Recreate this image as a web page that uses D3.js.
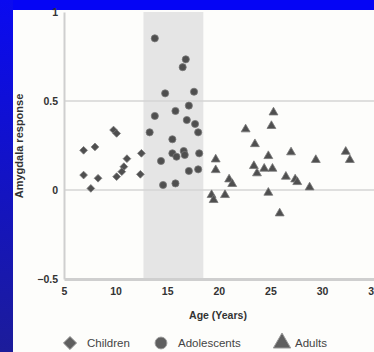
<!DOCTYPE html>
<html>
<head>
<meta charset="utf-8">
<script src="https://cdn.jsdelivr.net/npm/d3@7"></script>
<style>
  body { margin: 0; background: #fff; }
  text { font-family: "Liberation Sans", Arial, sans-serif; }
</style>
</head>
<body>
<div id="chart"></div>
<script>
// data: [age, amygdala response]
const children = [
  [6.9, 0.223], [8.0, 0.242], [9.8, 0.337], [10.1, 0.318], [6.9, 0.084],
  [8.3, 0.066], [7.6, 0.009], [11.1, 0.176], [10.8, 0.131], [10.6, 0.103],
  [10.1, 0.075], [12.5, 0.206], [12.4, 0.088]
];
const adolescents = [
  [13.8, 0.852], [16.8, 0.734], [16.5, 0.69], [14.8, 0.543], [17.6, 0.552],
  [17.1, 0.474], [15.8, 0.444], [13.8, 0.416], [16.9, 0.393], [17.7, 0.371],
  [13.3, 0.324], [18.0, 0.324], [15.5, 0.285], [15.5, 0.206], [15.9, 0.187],
  [16.6, 0.219], [16.7, 0.197], [18.1, 0.206], [14.4, 0.163], [17.1, 0.107],
  [18.0, 0.116], [14.6, 0.028], [15.8, 0.037]
];
const adults = [
  [25.3, 0.436], [25.1, 0.36], [22.6, 0.341], [23.5, 0.258], [27.0, 0.212],
  [32.3, 0.215], [32.7, 0.169], [24.8, 0.191], [19.7, 0.172], [29.4, 0.169],
  [19.7, 0.112], [23.4, 0.135], [23.7, 0.094], [24.4, 0.12], [25.2, 0.12],
  [21.0, 0.06], [21.3, 0.034], [26.5, 0.075], [27.4, 0.06], [27.6, 0.045],
  [28.8, 0.015], [19.3, -0.028], [19.5, -0.056], [20.6, -0.028], [24.8, -0.015],
  [25.9, -0.131]
];
const adolescentBand = [12.7, 18.5];
const xTicks = [5, 10, 15, 20, 25, 30, 35];
const yTicks = [-0.5, 0, 0.5, 1];
const legendLabels = ["Children", "Adolescents", "Adults"];

const W = 374, H = 352;
const svg = d3.select("#chart").append("svg")
  .attr("width", W).attr("height", H);

// blue frame
const defs = svg.append("defs");
const grad = defs.append("linearGradient").attr("id", "leftBlue")
  .attr("x1", 0).attr("y1", 0).attr("x2", 0).attr("y2", 1);
grad.append("stop").attr("offset", "0%").attr("stop-color", "#0a0af0");
grad.append("stop").attr("offset", "100%").attr("stop-color", "#1c1c9a");
defs.append("filter").attr("id", "soft")
  .append("feGaussianBlur").attr("stdDeviation", 0.6);

svg.append("rect").attr("width", W).attr("height", H).attr("fill", "#0505f5");
svg.append("rect").attr("x", 0).attr("y", 0).attr("width", 13).attr("height", H)
  .attr("fill", "url(#leftBlue)");
svg.append("rect").attr("x", 13).attr("y", 10).attr("width", W - 13).attr("height", H - 10)
  .attr("fill", "#fdfdfb");

const x = d3.scaleLinear().domain([5, 35]).range([64, 373.6]);
const y = d3.scaleLinear().domain([-0.5, 1]).range([279, 12]);

// adolescent band
svg.append("rect")
  .attr("x", x(adolescentBand[0])).attr("y", y(1))
  .attr("width", x(adolescentBand[1]) - x(adolescentBand[0]))
  .attr("height", y(-0.5) - y(1))
  .attr("fill", "#e5e5e5");

// grid lines
svg.append("g").selectAll("line")
  .data([0, 0.5])
  .join("line")
  .attr("x1", x(5)).attr("x2", W)
  .attr("y1", d => y(d)).attr("y2", d => y(d))
  .attr("stroke", "#d4d4d4").attr("stroke-width", 1.6);

// axes
const xAxis = svg.append("g")
  .attr("transform", "translate(0," + y(-0.5) + ")")
  .call(d3.axisBottom(x).tickValues(xTicks).tickSize(0).tickPadding(9).tickFormat(d3.format("d")));
xAxis.select(".domain").attr("stroke", "#cfcfcf").attr("stroke-width", 3);

const yAxis = svg.append("g")
  .attr("transform", "translate(" + x(5) + ",0)")
  .call(d3.axisLeft(y).tickValues(yTicks).tickSize(0).tickPadding(6)
    .tickFormat(d => d === 0 ? "0" : d === 1 ? "1" : d3.format(".1f")(d)));
yAxis.select(".domain").attr("stroke", "#cfcfcf").attr("stroke-width", 2);

svg.selectAll(".tick text")
  .attr("font-size", 10.5).attr("font-weight", "bold").attr("fill", "#333");

// axis titles
svg.append("text")
  .attr("x", 218).attr("y", 319)
  .attr("text-anchor", "middle")
  .attr("font-size", 10.5).attr("font-weight", "bold").attr("fill", "#333")
  .text("Age (Years)");

svg.append("text")
  .attr("transform", "translate(23,146) rotate(-90)")
  .attr("text-anchor", "middle")
  .attr("font-size", 11).attr("font-weight", "bold").attr("fill", "#333")
  .text("Amygdala response");

// points
const diamond = d3.symbolDiamond2 || d3.symbolDiamond;
const groups = [
  { data: children, shape: diamond, size: 38 },
  { data: adolescents, shape: d3.symbolCircle, size: 40 },
  { data: adults, shape: d3.symbolTriangle, size: 34 }
];

const pts = svg.append("g").attr("filter", "url(#soft)");
groups.forEach(g => {
  pts.append("g").selectAll("path")
    .data(g.data)
    .join("path")
    .attr("d", d3.symbol().type(g.shape).size(g.size))
    .attr("transform", d => "translate(" + x(d[0]) + "," + y(d[1]) + ")")
    .attr("fill", "#4f4f4f")
    .attr("stroke", "#777")
    .attr("stroke-width", 0.8);
});

// legend
const legendX = [70, 161, 282];
const legend = svg.append("g");
groups.forEach((g, i) => {
  legend.append("path")
    .attr("d", d3.symbol().type(g.shape).size(i === 2 ? 130 : 110))
    .attr("transform", "translate(" + legendX[i] + ",343)")
    .attr("fill", "#5f5f5f")
    .attr("stroke", "#999")
    .attr("filter", "url(#soft)");
  legend.append("text")
    .attr("x", legendX[i] + (i === 2 ? 13 : 17)).attr("y", 347)
    .attr("font-size", 11.5).attr("fill", "#444")
    .text(legendLabels[i]);
});
</script>
</body>
</html>
